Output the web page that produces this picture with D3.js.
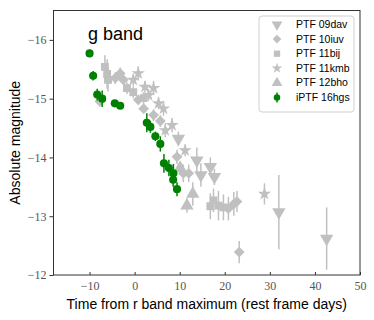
<!DOCTYPE html>
<html>
<head>
<meta charset="utf-8">
<script src="https://cdn.jsdelivr.net/npm/d3@7"></script>
<style>
  body { margin: 0; background: #fff; }
  svg { display: block; }
</style>
</head>
<body>
<svg id="chart" width="374" height="320"></svg>
<script>
// x ticks and y ticks
const xTicks = [-10, 0, 10, 20, 30, 40, 50];
const yTicks = [-16, -15, -14, -13, -12];

// PTF 09dav (triangle down)
const dav09X = [9.7, 13.8, 14.7, 16.8, 17.7, 32.0, 42.6];
const dav09Y = [-14.32, -13.95, -13.70, -13.84, -13.67, -13.07, -12.62];
const dav09E = [0.12, 0.22, 0.2, 0.16, 0.14, 0.63, 0.53];

// PTF 10iuv (diamond)
const iuv10X = [-7.7, -4.3, -3.2, -2.5, 0.8, 2.0, 4.2, 5.7, 9.4, 10.8, 12.0, 20.8, 22.0, 22.7, 23.2];
const iuv10Y = [-14.95, -15.35, -15.43, -15.32, -14.98, -14.83, -14.72, -14.62, -14.01, -13.73, -13.73, -13.13, -13.21, -13.25, -12.39];
const iuv10E = [0.08, 0.1, 0.1, 0.08, 0.08, 0.08, 0.1, 0.1, 0.12, 0.15, 0.15, 0.2, 0.2, 0.18, 0.19];

// PTF 11bij (square)
const bij11X = [-6.6, -6.1, -5.9, -1.7, -0.3, 2.0, 16.8, 17.5, 18.6, 19.7];
const bij11Y = [-15.54, -15.42, -15.32, -15.18, -15.11, -15.01, -13.17, -13.27, -13.18, -13.15];
const bij11E = [0.2, 0.25, 0.2, 0.1, 0.1, 0.1, 0.22, 0.2, 0.25, 0.22];

// PTF 11kmb (star)
const kmb11X = [-0.3, 0.8, 2.3, 3.1, 4.2, 5.3, 6.4, 6.8, 8.3, 11.2, 28.8];
const kmb11Y = [-15.32, -15.43, -15.20, -15.06, -15.18, -14.92, -14.83, -14.46, -14.55, -14.12, -13.38];
const kmb11E = [0.1, 0.12, 0.1, 0.1, 0.12, 0.1, 0.12, 0.12, 0.12, 0.1, 0.18];

// PTF 12bho (triangle up)
const bho12X = [10.1, 12.9, 11.6];
const bho12Y = [-13.82, -13.38, -13.18];
const bho12E = [0.1, 0.2, 0.12];

// iPTF 16hgs (green circles)
const hgs16X = [-10.0, -9.2, -8.3, -7.2, -4.4, -3.2, 2.7, 3.5, 4.6, 5.7, 6.5, 7.6, 8.6, 8.55, 9.4];
const hgs16Y = [-15.77, -15.39, -15.07, -15.00, -14.92, -14.88, -14.59, -14.52, -14.36, -14.23, -13.90, -13.82, -13.73, -13.62, -13.46];
const hgs16E = [0.06, 0.08, 0.1, 0.14, 0.04, 0.04, 0.16, 0.1, 0.08, 0.13, 0.16, 0.14, 0.16, 0.12, 0.12];

const grey = '#c0c0c0';
const series = [
  { name: 'PTF 09dav', x: dav09X, y: dav09Y, e: dav09E, shape: 'tridown' },
  { name: 'PTF 10iuv', x: iuv10X, y: iuv10Y, e: iuv10E, shape: 'diamond' },
  { name: 'PTF 11bij', x: bij11X, y: bij11Y, e: bij11E, shape: 'square' },
  { name: 'PTF 11kmb', x: kmb11X, y: kmb11Y, e: kmb11E, shape: 'star' },
  { name: 'PTF 12bho', x: bho12X, y: bho12Y, e: bho12E, shape: 'triup' },
  { name: 'iPTF 16hgs', x: hgs16X, y: hgs16Y, e: hgs16E, shape: 'circle' }
];

const margin = { top: 10.5, right: 14, bottom: 45, left: 53.5 };
const width = 374, height = 320;

const svg = d3.select('#chart');

const xScale = d3.scaleLinear().domain([-18, 50]).range([margin.left, width - margin.right]);
const yScale = d3.scaleLinear().domain([-16.5, -12]).range([margin.top, height - margin.bottom]);

// marker path per shape
function markerPath(shape, scale) {
  const k = scale || 1;
  if (shape === 'tridown' || shape === 'triup') return d3.symbol(d3.symbolTriangle, 78 * k * k)();
  if (shape === 'diamond') return d3.symbol(d3.symbolSquare, 58 * k * k)();
  if (shape === 'square') return d3.symbol(d3.symbolSquare, 62 * k * k)();
  if (shape === 'star') return d3.symbol(d3.symbolStar, 55 * k * k)();
  return d3.symbol(d3.symbolCircle, 52 * k * k)();
}
function markerRot(shape) {
  if (shape === 'tridown') return 180;
  if (shape === 'diamond') return 45;
  return 0;
}

const plot = svg.append('g');

// draw each series: error bars then markers
series.forEach(s => {
  const color = s.shape === 'circle' ? 'green' : grey;
  const pts = s.x.map((d, i) => ({ x: d, y: s.y[i], e: s.e[i] }));
  const g = plot.append('g');
  g.selectAll('line')
    .data(pts)
    .enter()
    .append('line')
    .attr('x1', d => xScale(d.x))
    .attr('x2', d => xScale(d.x))
    .attr('y1', d => yScale(d.y - d.e))
    .attr('y2', d => yScale(d.y + d.e))
    .attr('stroke', color)
    .attr('stroke-width', 1.5);
  g.selectAll('path')
    .data(pts)
    .enter()
    .append('path')
    .attr('d', markerPath(s.shape))
    .attr('transform', d => `translate(${xScale(d.x)},${yScale(d.y)}) rotate(${markerRot(s.shape)})`)
    .attr('fill', color);
});

// axes
const xAxis = svg.append('g')
  .attr('transform', `translate(0,${height - margin.bottom})`)
  .call(d3.axisBottom(xScale).tickValues(xTicks).tickSize(-3).tickPadding(6)
    .tickFormat(d => d < 0 ? '\u2212' + Math.abs(d) : d));
const yAxis = svg.append('g')
  .attr('transform', `translate(${margin.left},0)`)
  .call(d3.axisLeft(yScale).tickValues(yTicks).tickSize(4).tickPadding(3)
    .tickFormat(d => '\u2212' + Math.abs(d)));

[xAxis, yAxis].forEach(a => {
  a.select('.domain').remove();
  a.selectAll('line').attr('stroke', '#333');
  a.selectAll('text')
    .attr('font-family', '"Liberation Serif", serif')
    .attr('font-size', 12)
    .attr('fill', '#555');
});

// frame
svg.append('rect')
  .attr('x', margin.left)
  .attr('y', margin.top)
  .attr('width', width - margin.right - margin.left)
  .attr('height', height - margin.bottom - margin.top)
  .attr('fill', 'none')
  .attr('stroke', '#333')
  .attr('stroke-width', 1);

// labels
svg.append('text')
  .attr('x', (margin.left + width - margin.right) / 2)
  .attr('y', 309)
  .attr('text-anchor', 'middle')
  .attr('font-family', '"Liberation Sans", sans-serif')
  .attr('font-size', 14)
  .text('Time from r band maximum (rest frame days)');

svg.append('text')
  .attr('transform', 'rotate(-90)')
  .attr('x', -(margin.top + height - margin.bottom) / 2)
  .attr('y', 20)
  .attr('text-anchor', 'middle')
  .attr('font-family', '"Liberation Sans", sans-serif')
  .attr('font-size', 14)
  .text('Absolute magnitude');

svg.append('text')
  .attr('x', 88)
  .attr('y', 40)
  .attr('font-family', '"Liberation Sans", sans-serif')
  .attr('font-size', 18)
  .text('g band');

// legend
const legend = svg.append('g').attr('transform', 'translate(259,16)');
legend.append('rect')
  .attr('width', 95)
  .attr('height', 96)
  .attr('rx', 3)
  .attr('fill', 'white')
  .attr('fill-opacity', 0.8)
  .attr('stroke', '#d0d0d0');

series.forEach((s, i) => {
  const color = s.shape === 'circle' ? 'green' : grey;
  const row = legend.append('g').attr('transform', `translate(18,${8.5 + i * 14.6})`);
  if (s.shape === 'circle') {
    row.append('line').attr('y1', -5).attr('y2', 5).attr('stroke', color).attr('stroke-width', 1.5);
  }
  row.append('path')
    .attr('d', markerPath(s.shape, 0.8))
    .attr('transform', `rotate(${markerRot(s.shape)})`)
    .attr('fill', color);
  row.append('text')
    .attr('x', 19)
    .attr('y', 3.5)
    .attr('font-family', '"Liberation Sans", sans-serif')
    .attr('font-size', 10.5)
    .text(s.name);
});
</script>
</body>
</html>
